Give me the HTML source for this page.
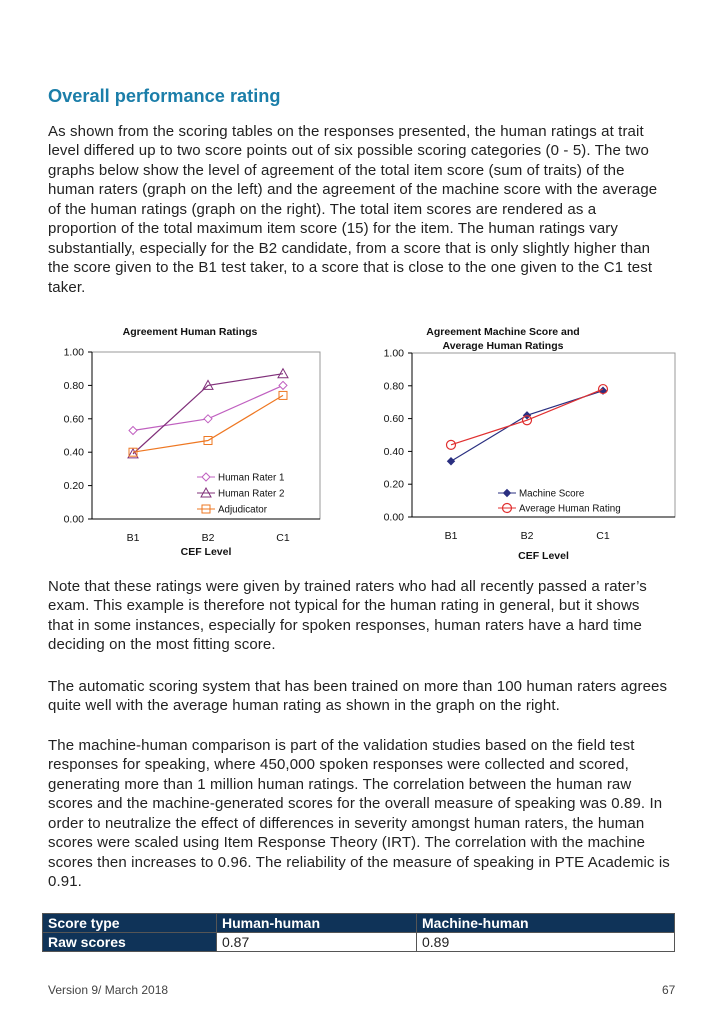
<!DOCTYPE html>
<html><head><meta charset="utf-8">
<style>
body{margin:0;width:724px;height:1024px;background:#fff;position:relative;overflow:hidden;font-family:"Liberation Sans",sans-serif;color:#222}
.l{position:absolute;left:48px;white-space:nowrap;font-size:15px;letter-spacing:0.12px;line-height:19px}
h1{position:absolute;left:48px;top:86px;margin:0;font-size:18.2px;color:#1b7ea9;font-weight:bold}
table{position:absolute;left:42px;top:913px;width:633px;border-collapse:collapse;font-size:14px}
td{border:1px solid #555;height:18px;padding:0 5px;line-height:18px}
.hd td{background:#0f3358;color:#fff;font-weight:bold}
.fc{background:#0f3358;color:#fff;font-weight:bold}
.ft{position:absolute;top:983px;font-size:12px;color:#444}
</style></head><body>
<h1>Overall performance rating</h1>
<div>
<div class="l" style="top:122px">As shown from the scoring tables on the responses presented, the human ratings at trait</div>
<div class="l" style="top:141px">level differed up to two score points out of six possible scoring categories (0 - 5). The two</div>
<div class="l" style="top:161px">graphs below show the level of agreement of the total item score (sum of traits) of the</div>
<div class="l" style="top:180px">human raters (graph on the left) and the agreement of the machine score with the average</div>
<div class="l" style="top:200px">of the human ratings (graph on the right). The total item scores are rendered as a</div>
<div class="l" style="top:219px">proportion of the total maximum item score (15) for the item. The human ratings vary</div>
<div class="l" style="top:239px">substantially, especially for the B2 candidate, from a score that is only slightly higher than</div>
<div class="l" style="top:258px">the score given to the B1 test taker, to a score that is close to the one given to the C1 test</div>
<div class="l" style="top:278px">taker.</div>
</div>

<svg id="charts" width="724" height="1024" style="position:absolute;left:0;top:0" font-family="Liberation Sans, sans-serif"></svg>

<div>
<div class="l" style="top:577px">Note that these ratings were given by trained raters who had all recently passed a rater’s</div>
<div class="l" style="top:596px">exam. This example is therefore not typical for the human rating in general, but it shows</div>
<div class="l" style="top:616px">that in some instances, especially for spoken responses, human raters have a hard time</div>
<div class="l" style="top:635px">deciding on the most fitting score.</div>
<div class="l" style="top:677px">The automatic scoring system that has been trained on more than 100 human raters agrees</div>
<div class="l" style="top:696px">quite well with the average human rating as shown in the graph on the right.</div>
<div class="l" style="top:736px">The machine-human comparison is part of the validation studies based on the field test</div>
<div class="l" style="top:755px">responses for speaking, where 450,000 spoken responses were collected and scored,</div>
<div class="l" style="top:775px">generating more than 1 million human ratings. The correlation between the human raw</div>
<div class="l" style="top:794px">scores and the machine-generated scores for the overall measure of speaking was 0.89. In</div>
<div class="l" style="top:814px">order to neutralize the effect of differences in severity amongst human raters, the human</div>
<div class="l" style="top:833px">scores were scaled using Item Response Theory (IRT). The correlation with the machine</div>
<div class="l" style="top:853px">scores then increases to 0.96. The reliability of the measure of speaking in PTE Academic is</div>
<div class="l" style="top:872px">0.91.</div>
</div>

<table>
<tr class="hd"><td style="width:163px">Score type</td><td style="width:189px">Human-human</td><td>Machine-human</td></tr>
<tr><td class="fc">Raw scores</td><td>0.87</td><td>0.89</td></tr>
</table>
<div class="ft" style="left:48px">Version 9/ March 2018</div>
<div class="ft" style="left:662px">67</div>

<script>
const categories=["B1","B2","C1"];
const yTicks=[0,0.2,0.4,0.6,0.8,1.0];
const rater1=[0.53,0.60,0.80];
const rater2=[0.39,0.80,0.87];
const adjudicator=[0.40,0.47,0.74];
const machine=[0.34,0.62,0.77];
const avgHuman=[0.44,0.59,0.78];

const NS="http://www.w3.org/2000/svg";
const svg=document.getElementById('charts');
function el(t,a,p){const e=document.createElementNS(NS,t);for(const k in a)e.setAttribute(k,a[k]);(p||svg).appendChild(e);return e;}
function txt(x,y,s,a,p){const e=el('text',Object.assign({x:x,y:y,'font-size':10.5,fill:'#111'},a),p);e.textContent=s;return e;}
function marker(g,type,x,y,c){
  if(type==='diamond')return el('polygon',{points:`${x},${y-4} ${x+4},${y} ${x},${y+4} ${x-4},${y}`,fill:'#fff',stroke:c},g);
  if(type==='triangle')return el('polygon',{points:`${x},${y-5} ${x+5},${y+4} ${x-5},${y+4}`,fill:'none',stroke:c},g);
  if(type==='square')return el('rect',{x:x-4,y:y-4,width:8,height:8,fill:'none',stroke:c},g);
  if(type==='fdiamond')return el('polygon',{points:`${x},${y-3.5} ${x+3.5},${y} ${x},${y+3.5} ${x-3.5},${y}`,fill:c,stroke:c},g);
  if(type==='circle')return el('circle',{cx:x,cy:y,r:4.5,fill:'none',stroke:c,'stroke-width':1.2},g);
}
function chart(cfg){
  const g=el('g',{});
  
  
  const {x0,x1,y0,y1}=cfg;
  const xs=i=>cfg.cx[0]+i*(cfg.cx[1]-cfg.cx[0]);
  const ys=v=>y1-(v)*(y1-y0);
  el('rect',{x:x0,y:y0,width:x1-x0,height:y1-y0,fill:'none',stroke:'#999'},g);
  el('line',{x1:x0,y1:y0,x2:x0,y2:y1,stroke:'#000'},g);
  el('line',{x1:x0,y1:y1,x2:x1,y2:y1,stroke:'#000'},g);
  yTicks.forEach(v=>{el('line',{x1:x0-4,y1:ys(v),x2:x0,y2:ys(v),stroke:'#000'},g);
    const t=txt(x0-8,ys(v)+3.5,v.toFixed(2),{'text-anchor':'end'},g);
    });
  categories.forEach((c,i)=>{const t=txt(xs(i),cfg.xly,c,{'text-anchor':'middle'},g);
    });
  const xt=txt((x0+x1)/2,cfg.xty,'CEF Level',{'text-anchor':'middle','font-weight':'bold'},g);
  
  cfg.title.forEach((s,i)=>{const t=txt(cfg.tx,cfg.ty+i*14,s,{'text-anchor':'middle','font-weight':'bold'},g);
    });
  cfg.series.forEach((s,k)=>{
    const sg=el('g',{},g);
    
    
    el('polyline',{points:s.data.map((v,i)=>xs(i)+','+ys(v)).join(' '),fill:'none',stroke:s.color,'stroke-width':1.2},sg);
    s.data.forEach((v,i)=>marker(sg,s.m,xs(i),ys(v),s.color));
    const lg=el('g',{},g);
    
    
    const ly=cfg.ly+k*cfg.lstep;
    el('line',{x1:cfg.lx,y1:ly,x2:cfg.lx+18,y2:ly,stroke:s.color},lg);
    marker(lg,s.m,cfg.lx+9,ly,s.color);
    txt(cfg.lx+21,ly+3.5,s.label,{'font-size':9.8},lg);
  });
}
chart({name:'human-ratings-chart',x0:92,x1:320,y0:352,y1:519,cx:[133,208],xly:541,xty:555,tx:190,ty:335,
  title:['Agreement Human Ratings'],
  lx:197,ly:477,lstep:16,
  series:[{key:'human-rater-1',label:'Human Rater 1',data:rater1,color:'#c060c0',m:'diamond'},
          {key:'human-rater-2',label:'Human Rater 2',data:rater2,color:'#80307a',m:'triangle'},
          {key:'adjudicator',label:'Adjudicator',data:adjudicator,color:'#ee7722',m:'square'}]});
chart({name:'machine-human-chart',x0:412,x1:675,y0:353,y1:517,cx:[451,527],xly:539,xty:559,tx:503,ty:335,
  title:['Agreement Machine Score and','Average Human Ratings'],
  lx:498,ly:493,lstep:15,
  series:[{key:'machine-score',label:'Machine Score',data:machine,color:'#2a2f80',m:'fdiamond'},
          {key:'average-human-rating',label:'Average Human Rating',data:avgHuman,color:'#e03030',m:'circle'}]});
</script>
</body></html>
